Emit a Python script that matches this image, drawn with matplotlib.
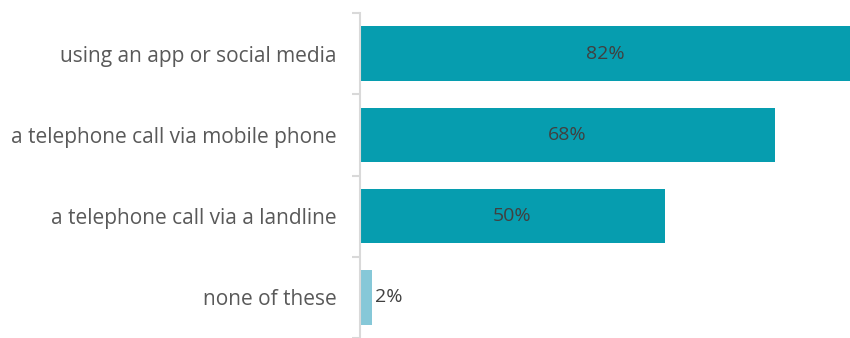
import matplotlib
matplotlib.use("Agg")
import matplotlib.pyplot as plt

categories = ["using an app or social media", "a telephone call via mobile phone",
              "a telephone call via a landline", "none of these"]
values = [82, 68, 50, 2]
colors = ["#069DAF", "#069DAF", "#069DAF", "#86C8D8"]

plt.rcParams['font.family'] = ['Open Sans', 'DejaVu Sans']
fig = plt.figure(figsize=(8.5, 3.38), dpi=100)
ax = fig.add_axes([360/850, 0, 1 - 360/850, 1 - 13/338])
xmax = 80.3
y = range(len(categories))
ax.barh(list(y), values, height=0.67, color=colors)
ax.set_xlim(0, xmax)
ax.set_ylim(len(categories) - 0.5, -0.5)
for i, v in enumerate(values):
    if v > 10:
        ax.text(min(v, xmax) / 2, i, f"{v}%", ha='center', va='center', fontsize=14, color='#404040')
    else:
        ax.text(v + 0.5, i, f"{v}%", ha='left', va='center', fontsize=14, color='#404040')
for s in ['top', 'right', 'bottom']:
    ax.spines[s].set_visible(False)
ax.spines['left'].set_color('#D9D9D9')
ax.spines['left'].set_linewidth(1.5)
ax.set_xticks([])
ax.set_yticks([-0.5, 0.5, 1.5, 2.5, 3.5], minor=False)
ax.set_yticklabels([])
ax.tick_params(axis='y', which='major', length=6, color='#D9D9D9', width=1.5)
ax.set_yticks(list(y), minor=True)
ax.set_yticklabels(categories, minor=True)
ax.tick_params(axis='y', which='minor', length=0, pad=17, labelsize=15, labelcolor='#595959')
fig.savefig("out.png", dpi=100)
